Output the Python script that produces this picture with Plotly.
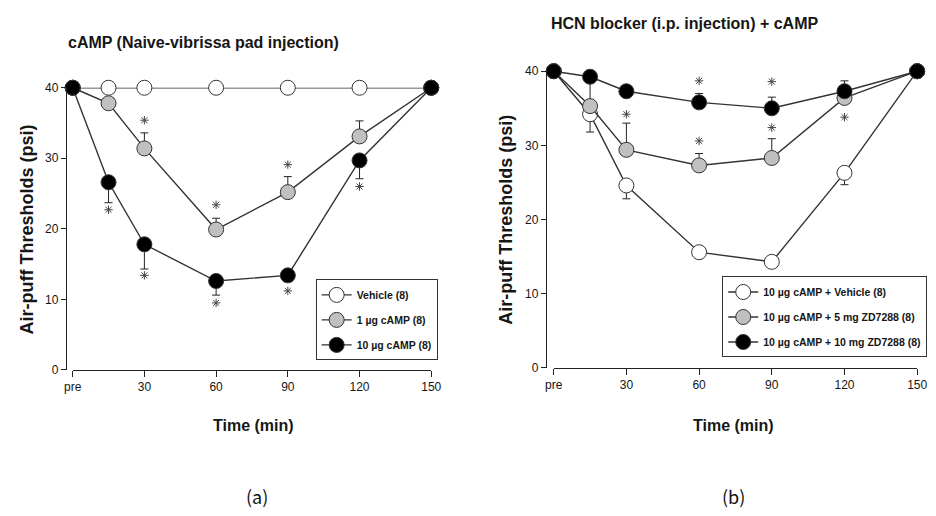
import plotly.graph_objects as go

W, H = 936, 516

# ---------------- data ----------------
time_min = [0, 15, 30, 60, 90, 120, 150]
tick_vals = [0, 30, 60, 90, 120, 150]
tick_text = ["pre", "30", "60", "90", "120", "150"]
y_ticks = [0, 10, 20, 30, 40]

# panel (a)
a_names = ["Vehicle (8)", "1 µg cAMP (8)", "10 µg cAMP (8)"]
a_vehicle = [40, 40, 40, 40, 40, 40, 40]
a_camp1 = [40, 37.8, 31.4, 19.9, 25.2, 33.1, 40]
a_camp1_err_up = [0, 0, 2.2, 1.6, 2.2, 2.2, 0]
a_camp10 = [40, 26.6, 17.8, 12.6, 13.4, 29.7, 40]
a_camp10_err_dn = [0, 2.9, 3.5, 2.0, 0.8, 2.6, 0]
a_star1_x = [30, 60, 90]
a_star1_y = [35.4, 23.4, 29.1]
a_star10_x = [15, 30, 60, 90, 120]
a_star10_y = [22.7, 13.4, 9.5, 11.2, 26.0]

# panel (b)
b_names = ["10 µg cAMP + Vehicle (8)", "10 µg cAMP + 5 mg ZD7288 (8)",
           "10 µg cAMP + 10 mg ZD7288 (8)"]
b_vehicle = [40, 34.2, 24.6, 15.6, 14.3, 26.3, 40]
b_vehicle_err_dn = [0, 2.4, 1.8, 0.5, 0.5, 1.6, 0]
b_zd5 = [40, 35.3, 29.4, 27.3, 28.3, 36.4, 40]
b_zd5_err_up = [0, 3.3, 3.6, 1.6, 2.6, 0.5, 0]
b_zd10 = [40, 39.25, 37.3, 35.8, 35.0, 37.3, 40]
b_zd10_err_up = [0, 0.5, 0.5, 1.2, 1.5, 1.4, 0]
b_star10_x = [30, 60, 90, 120]
b_star10_y = [40.1, 38.7, 38.6, 40.4]
b_star5_x = [30, 60, 90, 120]
b_star5_y = [34.2, 30.6, 32.4, 33.8]

fills = ["white", "#c0c0c0", "black"]

def px(x):
    return x / W

def py(y):
    return 1 - y / H

FONT = "Liberation Sans, Arial, sans-serif"
TXT = "#161616"

fig = go.Figure()

def series(x, y, fill, name, xa, ya, legend, group, err=None):
    ey = None
    if err is not None:
        up, dn = err
        ey = dict(type="data", symmetric=False,
                  array=up if up is not None else [0] * len(y),
                  arrayminus=dn if dn is not None else [0] * len(y),
                  color="#222", thickness=1, width=4)
    fig.add_trace(go.Scatter(
        x=x, y=y, name="<b>" + name + "</b>", mode="lines+markers",
        xaxis=xa, yaxis=ya, legend=legend, legendgroup=group,
        line=dict(color="#333", width=1.4),
        marker=dict(size=15, color=fill, line=dict(color="#333", width=1)),
        error_y=ey, cliponaxis=False))

def stars(x, y, xa, ya):
    fig.add_trace(go.Scatter(
        x=x, y=y, mode="markers", xaxis=xa, yaxis=ya, showlegend=False,
        marker=dict(symbol="asterisk-open", size=7, color="#444",
                    line=dict(color="#444", width=1)),
        hoverinfo="skip", cliponaxis=False))

# panel (a)
series(time_min, a_vehicle, fills[0], a_names[0], "x", "y", "legend", "a0")
series(time_min, a_camp1, fills[1], a_names[1], "x", "y", "legend", "a1",
       err=(a_camp1_err_up, None))
series(time_min, a_camp10, fills[2], a_names[2], "x", "y", "legend", "a2",
       err=(None, a_camp10_err_dn))
stars(a_star1_x, a_star1_y, "x", "y")
stars(a_star10_x, a_star10_y, "x", "y")

# panel (b)
series(time_min, b_vehicle, fills[0], b_names[0], "x2", "y2", "legend2", "b0",
       err=(None, b_vehicle_err_dn))
series(time_min, b_zd5, fills[1], b_names[1], "x2", "y2", "legend2", "b1",
       err=(b_zd5_err_up, None))
series(time_min, b_zd10, fills[2], b_names[2], "x2", "y2", "legend2", "b2",
       err=(b_zd10_err_up, None))
stars(b_star10_x, b_star10_y, "x2", "y2")
stars(b_star5_x, b_star5_y, "x2", "y2")

tickfont = dict(family=FONT, size=12, color=TXT)

def xaxis(domain, anchor):
    return dict(domain=domain, range=[0, 150], anchor=anchor,
                tickvals=tick_vals, ticktext=tick_text, ticks="outside",
                ticklen=6, tickcolor="#222", showline=True, linecolor="#222",
                linewidth=1, showgrid=False, zeroline=False, tickfont=tickfont)

def yaxis(domain, pos):
    return dict(domain=domain, range=[0, 40], anchor="free", position=pos,
                tickvals=y_ticks, ticks="outside", ticklen=5, tickcolor="#222",
                showline=True, linecolor="#222", linewidth=1, showgrid=False,
                zeroline=False, tickfont=tickfont)

legend_common = dict(bgcolor="white", bordercolor="#333", borderwidth=1,
                     xanchor="left", yanchor="top", traceorder="grouped",
                     tracegroupgap=6, itemwidth=30,
                     font=dict(family=FONT, size=10.5, color=TXT))

fig.update_layout(
    width=W, height=H, autosize=False,
    margin=dict(l=0, r=0, t=0, b=0),
    paper_bgcolor="white", plot_bgcolor="rgba(0,0,0,0)",
    xaxis=xaxis([px(65), px(431)], "y"),
    yaxis=yaxis([py(373), py(83)], px(58)),
    xaxis2=xaxis([px(556), px(927)], "y2"),
    yaxis2=yaxis([py(371), py(66)], px(548)),
    legend=dict(x=px(313), y=py(280), **legend_common),
    legend2=dict(x=px(728), y=py(277), **legend_common),
)

title_font = dict(family=FONT, size=16, color=TXT)
axis_title_font = dict(family=FONT, size=18, color=TXT)
anns = [
    dict(text="<b>cAMP (Naive-vibrissa pad injection)</b>", x=px(58), y=py(37),
         xanchor="left", yanchor="middle", font=title_font),
    dict(text="<b>HCN blocker (i.p. injection) + cAMP</b>", x=px(551), y=py(17),
         xanchor="left", yanchor="middle", font=title_font),
    dict(text="<b>Air-puff Thresholds (psi)</b>", x=px(18), y=py(229),
         textangle=-90, xanchor="center", yanchor="middle", font=axis_title_font),
    dict(text="<b>Air-puff Thresholds (psi)</b>", x=px(507), y=py(219),
         textangle=-90, xanchor="center", yanchor="middle", font=axis_title_font),
    dict(text="<b>Time (min)</b>", x=px(250), y=py(430), xanchor="center",
         yanchor="middle", font=dict(family=FONT, size=16, color=TXT)),
    dict(text="<b>Time (min)</b>", x=px(740), y=py(430), xanchor="center",
         yanchor="middle", font=dict(family=FONT, size=16, color=TXT)),
    dict(text="(a)", x=px(253), y=py(503), xanchor="center", yanchor="middle",
         font=dict(family="Noto Sans CJK KR, sans-serif", size=18, color="#111")),
    dict(text="(b)", x=px(740), y=py(503), xanchor="center", yanchor="middle",
         font=dict(family="Noto Sans CJK KR, sans-serif", size=18, color="#111")),
]
for a in anns:
    a.update(xref="paper", yref="paper", showarrow=False)
fig.update_layout(annotations=anns)

fig.write_html(
    "out.html",
    config={"displayModeBar": False},
    post_script="document.body.style.margin='0';"
                "document.body.style.overflow='hidden';",
)
